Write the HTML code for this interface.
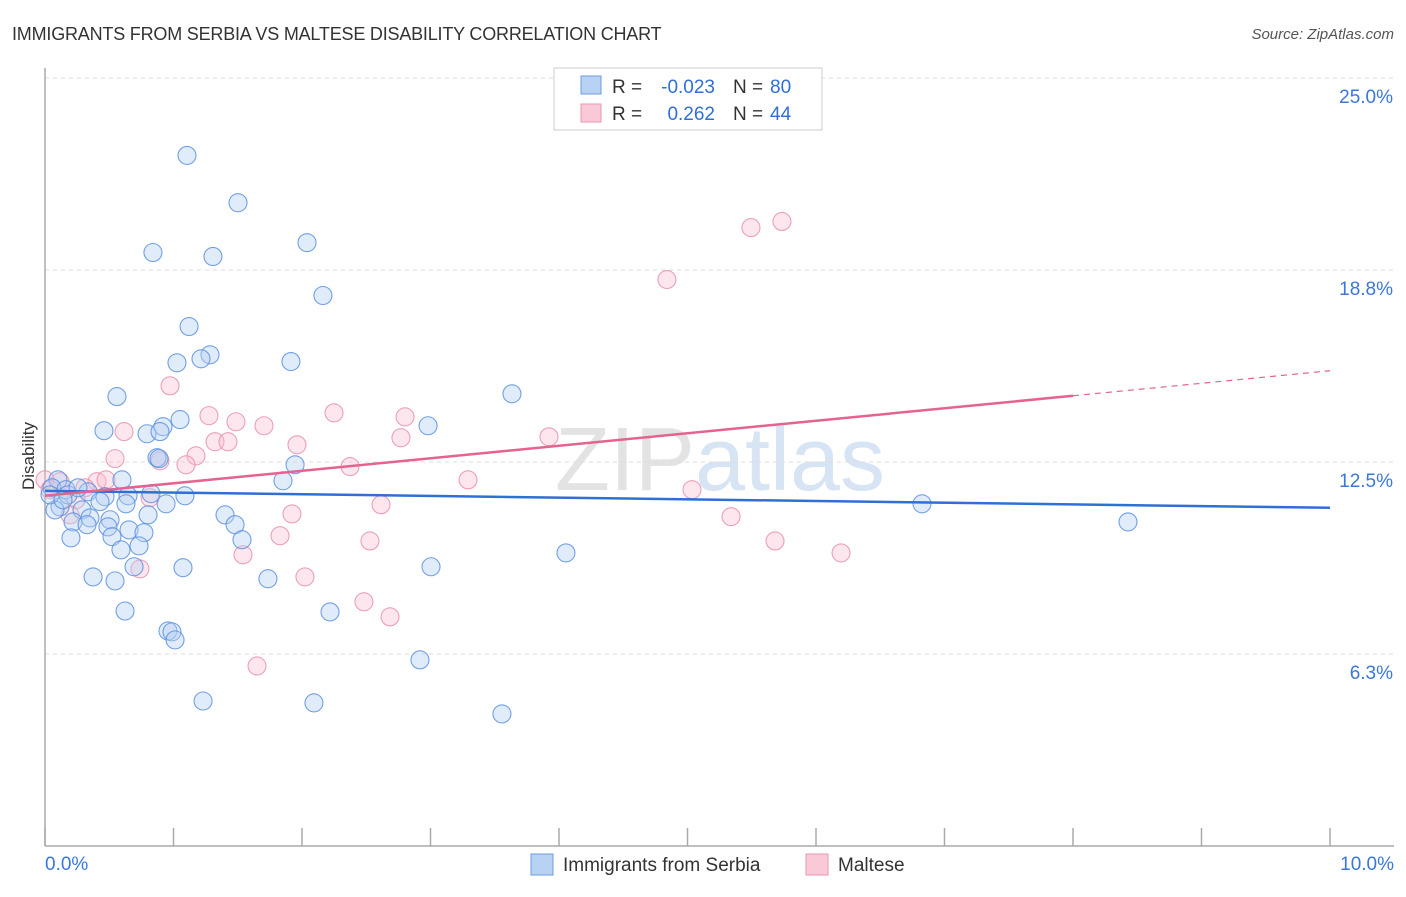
<!DOCTYPE html>
<html><head><meta charset="utf-8"><style>
body{margin:0;background:#fff;font-family:"Liberation Sans",sans-serif;}
svg text{font-family:"Liberation Sans",sans-serif;}
</style></head><body>
<svg width="1406" height="892" xmlns="http://www.w3.org/2000/svg">
<text x="12" y="40" font-size="18" fill="#333" letter-spacing="-0.2">IMMIGRANTS FROM SERBIA VS MALTESE DISABILITY CORRELATION CHART</text>
<text x="1394" y="39" font-size="15" fill="#555" font-style="italic" text-anchor="end">Source: ZipAtlas.com</text>
<text x="720" y="490" font-size="90" fill="#e3e3e3" text-anchor="middle" font-family="Liberation Serif">ZIP<tspan fill="#d6e4f4" font-family="Liberation Sans">atlas</tspan></text>
<g id="grid"></g>
<g id="axes"></g>
<g id="points"></g>
<g id="trends"></g>
<text x="34" y="456" font-size="17" fill="#333" text-anchor="middle" transform="rotate(-90 34 456)">Disability</text>
<g>
<rect x="554" y="68" width="268" height="62" fill="#fff" stroke="#ccc"/>
<rect x="581" y="76" width="20" height="18" fill="#b8d2f4" stroke="#6a9be0"/>
<rect x="581" y="104" width="20" height="18" fill="#f9c9d8" stroke="#eb96b2"/>
<text x="612" y="93" font-size="19" fill="#333">R =</text>
<text x="715" y="93" font-size="19" fill="#2f6fd6" text-anchor="end">-0.023</text>
<text x="733" y="93" font-size="19" fill="#333">N =</text>
<text x="770" y="93" font-size="19" fill="#2f6fd6">80</text>
<text x="612" y="120" font-size="19" fill="#333">R =</text>
<text x="715" y="120" font-size="19" fill="#2f6fd6" text-anchor="end">0.262</text>
<text x="733" y="120" font-size="19" fill="#333">N =</text>
<text x="770" y="120" font-size="19" fill="#2f6fd6">44</text>
</g>
<g>
<rect x="531" y="854" width="22" height="21" fill="#b8d2f4" stroke="#6a9be0"/>
<text x="563" y="871" font-size="19" fill="#333">Immigrants from Serbia</text>
<rect x="806" y="854" width="22" height="21" fill="#f9c9d8" stroke="#eb96b2"/>
<text x="838" y="871" font-size="19" fill="#333">Maltese</text>
</g>
<text x="45" y="870" font-size="19" fill="#3a78d8">0.0%</text>
<text x="1394" y="870" font-size="19" fill="#3a78d8" text-anchor="end">10.0%</text>
</svg>
<script>
const yTicks=[25,18.75,12.5,6.25];
const yTickLabels=["25.0%","18.8%","12.5%","6.3%"];
const xTicks=[0,1,2,3,4,5,6,7,8,9,10];
const serbiaX=[1.105,1.502,0.840,1.307,2.039,2.163,1.121,1.284,1.027,1.214,1.914,0.560,3.634,1.051,0.918,0.459,0.794,0.895,2.981,0.872,0.887,1.946,1.852,0.599,0.101,0.054,0.163,0.335,0.467,0.825,1.089,0.646,0.630,0.428,0.942,0.117,0.078,0.288,0.802,0.350,0.506,1.401,1.479,0.218,0.327,0.490,0.654,0.770,0.202,0.521,1.533,0.732,0.591,4.054,1.074,0.374,0.693,0.545,1.735,3.004,0.623,2.218,0.957,0.988,1.012,2.918,1.230,2.093,3.556,6.825,8.428,0.179,0.257,0.039,0.140];
const serbiaY=[22.48,20.94,19.32,19.19,19.64,17.92,16.91,15.99,15.73,15.86,15.77,14.63,14.72,13.88,13.65,13.52,13.42,13.49,13.68,12.64,12.61,12.41,11.89,11.92,11.92,11.66,11.60,11.53,11.37,11.47,11.40,11.40,11.14,11.21,11.14,11.04,10.94,10.94,10.78,10.68,10.62,10.78,10.46,10.55,10.46,10.39,10.29,10.20,10.03,10.07,9.97,9.77,9.64,9.54,9.06,8.76,9.09,8.63,8.70,9.09,7.65,7.62,7.00,6.97,6.71,6.06,4.72,4.66,4.30,11.14,10.55,11.43,11.66,11.43,11.27];
const malteseX=[5.735,5.494,4.840,0.973,2.249,1.276,2.802,1.486,1.704,0.615,3.922,2.770,1.323,1.424,1.961,0.545,1.175,0.895,1.097,2.374,3.292,5.035,0.405,0.475,0.117,0,0.311,0.241,2.615,5.339,1.922,0.195,1.829,2.529,5.681,6.195,1.541,0.739,2.023,2.482,2.685,1.650,0.039,0.817];
const malteseY=[20.33,20.13,18.44,14.98,14.10,14.01,13.97,13.81,13.68,13.49,13.32,13.29,13.16,13.16,13.06,12.61,12.70,12.54,12.41,12.35,11.92,11.60,11.86,11.92,11.86,11.92,11.66,11.27,11.11,10.72,10.81,10.78,10.10,9.93,9.93,9.54,9.48,9.02,8.76,7.95,7.46,5.86,11.60,11.34];
const serbiaTrend=[11.56,11.01];
const malteseTrend=[11.40,15.47];
const NS="http://www.w3.org/2000/svg";
const X=v=>45+v*128.5, Y=v=>846-v*30.72;
function mk(tag,attrs,parent){const e=document.createElementNS(NS,tag);for(const k in attrs)e.setAttribute(k,attrs[k]);document.getElementById(parent).appendChild(e);return e;}
yTicks.forEach((t,i)=>{
 const l=mk('line',{x1:45,x2:1394,y1:Y(t),y2:Y(t),stroke:'#ddd','stroke-dasharray':'4,4'},'grid');
 
 
 const tx=mk('text',{x:1393,y:Y(t)+25,'font-size':19,fill:'#3a78d8','text-anchor':'end'},'grid');
 tx.textContent=yTickLabels[i];
 
 
});
const ya=mk('line',{x1:45,x2:45,y1:68,y2:846,stroke:'#aaa','stroke-width':1.5},'axes');


const xa=mk('line',{x1:45,x2:1394,y1:846,y2:846,stroke:'#aaa','stroke-width':1.5},'axes');


xTicks.forEach(t=>{
 const l=mk('line',{x1:X(t),x2:X(t),y1:828,y2:846,stroke:'#aaa','stroke-width':1.5},'axes');
 
 
});
function pts(xs,ys,fill,stroke,name){xs.forEach((x,i)=>{
 const c=mk('circle',{cx:X(x),cy:Y(ys[i]),r:9,fill:fill,'fill-opacity':0.4,stroke:stroke,'stroke-opacity':0.85,'stroke-width':1.1},'points');
 
 
});}
pts(malteseX,malteseY,'#f9c0d2','#e890ae','maltese-point');
pts(serbiaX,serbiaY,'#b3cff3','#5a90de','serbia-point');
const bt=mk('line',{x1:X(0),y1:Y(serbiaTrend[0]),x2:X(10),y2:Y(serbiaTrend[1]),stroke:'#2f6fd6','stroke-width':2.5},'trends');


const mAt=v=>malteseTrend[0]+(malteseTrend[1]-malteseTrend[0])*v/10;
const pt=mk('line',{x1:X(0),y1:Y(mAt(0)),x2:X(8),y2:Y(mAt(8)),stroke:'#e5638e','stroke-width':2.5},'trends');


const pd=mk('line',{x1:X(8),y1:Y(mAt(8)),x2:X(10),y2:Y(mAt(10)),stroke:'#e5638e','stroke-width':1.2,'stroke-dasharray':'6,5'},'trends');


</script>
</body></html>
